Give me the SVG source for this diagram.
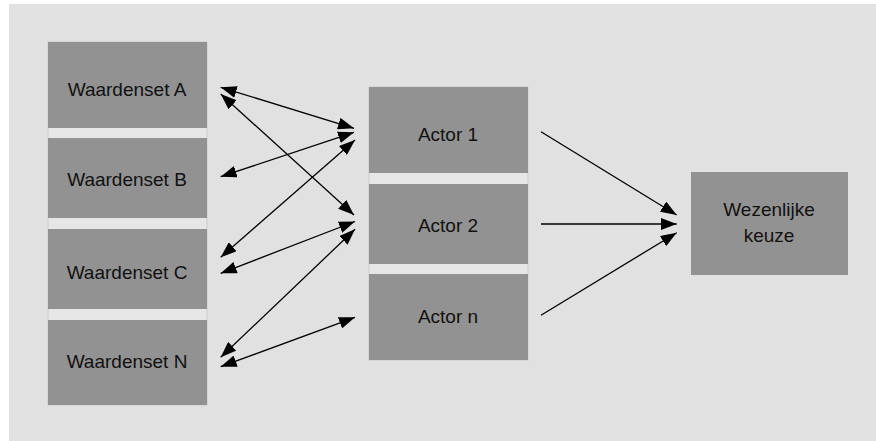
<svg xmlns="http://www.w3.org/2000/svg" width="876" height="441" viewBox="0 0 876 441">
<style>
.box{fill:#929292;}
.lbl{font-family:"Liberation Sans",Arial,sans-serif;font-size:19px;fill:#111;text-anchor:middle;}
.con{stroke:#000;stroke-width:1.3;fill:none;}
.bi{marker-start:url(#ah);marker-end:url(#ah);}
.uni{marker-end:url(#ah);}
</style>
<defs>
<marker id="ah" markerUnits="userSpaceOnUse" markerWidth="17" markerHeight="12" refX="16" refY="6" orient="auto-start-reverse" viewBox="0 0 17 12">
<path d="M0,0 L16,6 L0,12 z" fill="#000"/>
</marker>
</defs>
<rect x="0" y="0" width="876" height="441" fill="#ffffff"/>
<rect x="9" y="4" width="867" height="437" fill="#e1e1e1"/>
<rect x="48" y="42" width="159" height="363" fill="#e6e6e6" stroke="#cccccc" stroke-width="1"/>
<rect x="369" y="87" width="159" height="273" fill="#e6e6e6" stroke="#cccccc" stroke-width="1"/>
<g id="waardenset-a"><rect class="box" x="48" y="42" width="159" height="86"/><text class="lbl" x="127" y="96">Waardenset A</text></g>
<g id="waardenset-b"><rect class="box" x="48" y="138" width="159" height="80"/><text class="lbl" x="127" y="186">Waardenset B</text></g>
<g id="waardenset-c"><rect class="box" x="48" y="229" width="159" height="80"/><text class="lbl" x="127" y="279">Waardenset C</text></g>
<g id="waardenset-n"><rect class="box" x="48" y="320" width="159" height="85"/><text class="lbl" x="127" y="368">Waardenset N</text></g>
<g id="actor-1"><rect class="box" x="369" y="87" width="159" height="86"/><text class="lbl" x="448" y="141">Actor 1</text></g>
<g id="actor-2"><rect class="box" x="369" y="184" width="159" height="80"/><text class="lbl" x="448" y="232">Actor 2</text></g>
<g id="actor-n"><rect class="box" x="369" y="274" width="159" height="86"/><text class="lbl" x="448" y="323">Actor n</text></g>
<g id="wezenlijke-keuze"><rect class="box" x="691" y="172" width="157" height="103"/><text class="lbl" x="769" y="216">Wezenlijke</text><text class="lbl" x="769" y="242">keuze</text></g>
<g id="connectors">
<line class="con bi" x1="220.7" y1="87.3" x2="354" y2="128.3"/>
<line class="con bi" x1="220.7" y1="94" x2="354" y2="215"/>
<line class="con bi" x1="220.7" y1="176.7" x2="354" y2="132.3"/>
<line class="con bi" x1="220.7" y1="257.3" x2="355" y2="140"/>
<line class="con bi" x1="220.7" y1="273.3" x2="355" y2="221.5"/>
<line class="con bi" x1="220.7" y1="357.3" x2="355" y2="229.3"/>
<line class="con bi" x1="220.7" y1="366.7" x2="355" y2="317.3"/>
<line class="con uni" x1="541" y1="131.7" x2="676.7" y2="215"/>
<line class="con uni" x1="541" y1="224" x2="676.7" y2="224"/>
<line class="con uni" x1="541" y1="315.3" x2="676.7" y2="232.7"/>
</g>
</svg>
